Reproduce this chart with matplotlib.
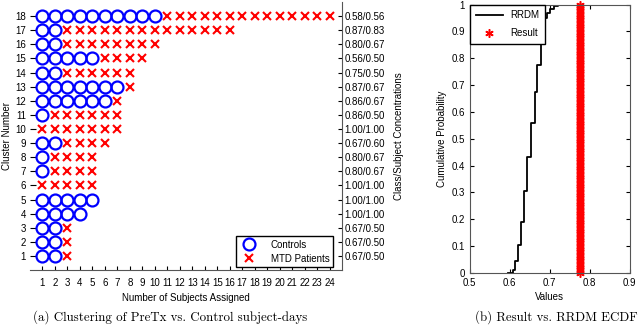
import numpy as np
import matplotlib
matplotlib.use("Agg")
import matplotlib.pyplot as plt

plt.rcParams['font.family'] = ['Liberation Sans', 'DejaVu Sans']
plt.rcParams['font.size'] = 7

# (a) cluster composition, cluster 1..18
clusters = list(range(1, 19))
n_controls = [2, 2, 2, 4, 5, 0, 1, 1, 2, 0, 1, 6, 7, 2, 5, 2, 2, 10]
n_patients = [1, 1, 1, 0, 0, 5, 4, 4, 4, 7, 6, 1, 1, 6, 4, 8, 14, 14]
concentrations = ['0.67/0.50', '0.67/0.50', '0.67/0.50', '1.00/1.00', '1.00/1.00',
                  '1.00/1.00', '0.80/0.67', '0.80/0.67', '0.67/0.60', '1.00/1.00',
                  '0.86/0.50', '0.86/0.67', '0.87/0.67', '0.75/0.50', '0.56/0.50',
                  '0.80/0.67', '0.87/0.83', '0.58/0.56']
no_tick_rows = [5, 6, 12, 18]

# (b) RRDM ECDF steps and result value
ecdf_x = [0.596, 0.608, 0.614, 0.621, 0.628, 0.636, 0.644, 0.654, 0.663, 0.669,
          0.678, 0.686, 0.692, 0.700, 0.710, 0.721, 0.776]
ecdf_y = [0.0, 0.01, 0.044, 0.103, 0.188, 0.305, 0.43, 0.56, 0.675, 0.775,
          0.905, 0.949, 0.968, 0.983, 0.995, 1.0, 1.0]
result = 0.776

blue = '#0000ff'
red = '#ff0000'
asterisk = (6, 2, 0)

fig = plt.figure(figsize=(6.4, 3.31), dpi=100)

# ---- (a) clustering ----
ax = fig.add_axes([0.0469, 0.184, 0.4875, 0.810])
cx, cy, px, py = [], [], [], []
for c, nc, npat in zip(clusters, n_controls, n_patients):
    for k in range(nc):
        cx.append(k + 1); cy.append(c)
    for k in range(npat):
        px.append(nc + k + 1); py.append(c)
ax.plot(cx, cy, 'o', ls='none', mfc='none', mec=blue, ms=8.6, mew=1.6, label='Controls')
ax.plot(px, py, 'x', ls='none', color=red, ms=5.5, mew=1.5, label='MTD Patients')
ax.set_xlim(0, 25)
ax.set_ylim(0, 19)
ax.set_xticks(range(1, 25))
ax.set_yticks(clusters)
ax.tick_params(axis='x', direction='in', length=3, pad=6)
ax.tick_params(axis='y', direction='in', length=4, pad=3)
for t, c in zip(ax.yaxis.get_major_ticks(), clusters):
    if c in no_tick_rows:
        t.tick1line.set_visible(False)
for s in ['top', 'left', 'right']:
    ax.spines[s].set_visible(False)
ax.spines['bottom'].set_color('#555555')
ax.set_xlabel('Number of Subjects Assigned', labelpad=3)
ax.set_ylabel('Cluster Number', labelpad=2)
ax.legend(loc='lower right', fancybox=False, edgecolor='black', framealpha=1,
          borderaxespad=0.3, handletextpad=1.2, borderpad=0.35, labelspacing=0.4,
          bbox_to_anchor=(0.98, 0.0))

ax2 = ax.twinx()
ax2.set_ylim(0, 19)
ax2.set_yticks(clusters)
ax2.set_yticklabels(concentrations)
ax2.tick_params(axis='y', direction='in', length=3, pad=2)
for s in ['top', 'left', 'bottom']:
    ax2.spines[s].set_visible(False)
ax2.spines['right'].set_color('#555555')
ax2.set_ylabel('Class/Subject Concentrations', labelpad=6)

# ---- (b) ECDF ----
bx = fig.add_axes([0.734, 0.176, 0.250, 0.810])
bx.plot(ecdf_x, ecdf_y, color='black', lw=1.3, drawstyle='steps-post', label='RRDM')
bx.plot([result] * 120, np.linspace(0, 1, 120), marker=asterisk, ls='none', color=red,
        ms=6, mew=1.1, label='Result', clip_on=False)
bx.set_xlim(0.5, 0.9)
bx.set_ylim(0, 1)
bx.set_xticks([0.5, 0.6, 0.7, 0.8, 0.9])
bx.set_yticks([0, 0.1, 0.2, 0.3, 0.4, 0.5, 0.6, 0.7, 0.8, 0.9, 1.0])
bx.set_yticklabels(['0', '0.1', '0.2', '0.3', '0.4', '0.5', '0.6', '0.7', '0.8', '0.9', '1'])
bx.tick_params(direction='in', length=3, top=True, right=True)
for s in bx.spines.values():
    s.set_color('#555555')
bx.set_xlabel('Values', labelpad=3)
bx.set_ylabel('Cumulative Probability', labelpad=3)
bx.legend(loc='upper left', fancybox=False, edgecolor='black', framealpha=1,
          borderaxespad=0.0, handlelength=2.8, borderpad=0.6, labelspacing=0.8)

# captions
fig.text(0.266, 0.03, '(a) Clustering of PreTx vs. Control subject-days',
         family=['cmr10', 'DejaVu Serif'], size=9.3, ha='center')
fig.text(0.870, 0.03, '(b) Result vs. RRDM ECDF',
         family=['cmr10', 'DejaVu Serif'], size=9.3, ha='center')

fig.savefig('out.png', dpi=100)
